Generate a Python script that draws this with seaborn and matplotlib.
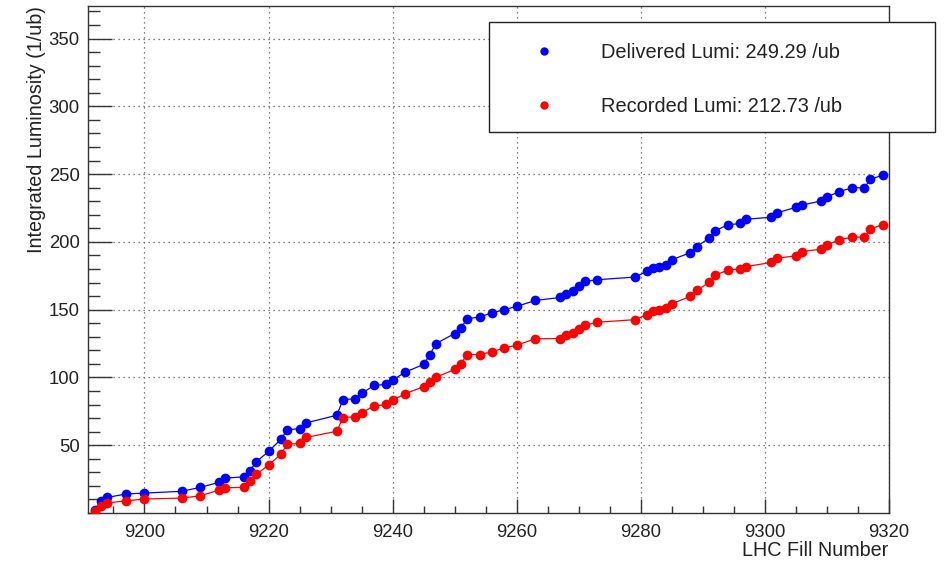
import matplotlib
matplotlib.use("Agg")
import matplotlib.pyplot as plt
from matplotlib.lines import Line2D
from matplotlib.patches import Rectangle
from matplotlib.ticker import MultipleLocator, FixedLocator
import seaborn as sns
import pandas as pd

fills = [9192, 9193, 9194, 9197, 9200, 9206, 9209, 9212, 9213, 9216,
         9217, 9218, 9220, 9222, 9223, 9225, 9226, 9231, 9232, 9234,
         9235, 9237, 9239, 9240, 9242, 9245, 9246, 9247, 9250, 9251,
         9252, 9254, 9256, 9258, 9260, 9263, 9267, 9268, 9269, 9270,
         9271, 9273, 9279, 9281, 9282, 9283, 9284, 9285, 9288, 9289,
         9291, 9292, 9294, 9296, 9297, 9301, 9302, 9305, 9306, 9309,
         9310, 9312, 9314, 9316, 9317, 9319]
delivered = [2.0, 9.0, 11.5, 14.0, 14.7, 16.0, 18.9, 22.6, 25.7, 26.7,
             31.1, 37.7, 45.4, 54.4, 61.3, 62.3, 66.4, 72.1, 83.6, 84.3,
             88.2, 94.1, 94.9, 98.0, 103.9, 109.6, 116.9, 125.0, 132.4, 136.5,
             143.2, 144.6, 147.6, 150.0, 152.4, 156.8, 159.0, 161.5, 163.5, 167.6,
             170.8, 172.1, 174.0, 178.2, 180.7, 181.8, 183.1, 186.8, 192.1, 196.5,
             202.7, 208.3, 212.5, 213.6, 216.7, 218.2, 221.5, 225.5, 227.2, 230.1,
             233.3, 237.0, 239.9, 239.9, 246.1, 249.29]
recorded = [1.7, 4.9, 7.4, 9.0, 10.3, 11.0, 12.7, 16.9, 18.6, 18.9,
            23.5, 28.5, 35.3, 43.4, 50.7, 51.3, 55.7, 60.3, 70.4, 71.1,
            74.0, 78.9, 80.1, 83.1, 88.0, 93.2, 96.5, 100.2, 105.9, 110.1,
            116.9, 116.9, 118.9, 121.8, 123.8, 128.5, 128.7, 131.1, 132.9, 135.8,
            138.5, 140.7, 142.6, 146.3, 148.7, 150.0, 151.2, 154.4, 159.8, 164.2,
            170.1, 175.7, 179.0, 180.1, 181.8, 184.8, 188.0, 189.7, 192.9, 194.6,
            197.8, 201.5, 203.5, 203.5, 209.6, 212.73]
legend_labels = ["Delivered Lumi: 249.29 /ub", "Recorded Lumi: 212.73 /ub"]
x_ticks = [9200, 9220, 9240, 9260, 9280, 9300, 9320]
y_ticks = [50, 100, 150, 200, 250, 300, 350]

sns.set_style("ticks")
plt.rcParams["font.family"] = ["Liberation Sans", "DejaVu Sans"]

df = pd.DataFrame({"fill": fills, "delivered": delivered, "recorded": recorded})

fig = plt.figure(figsize=(9.5, 5.63), dpi=100)
ax = fig.add_axes([88 / 950, 50 / 563, 801 / 950, 507 / 563])

sns.lineplot(data=df, x="fill", y="delivered", ax=ax, color="#0000ff",
             marker="o", markersize=7, markeredgewidth=0, linewidth=0.9,
             sort=False, zorder=3)
sns.lineplot(data=df, x="fill", y="recorded", ax=ax, color="#ff0000",
             marker="o", markersize=7, markeredgewidth=0, linewidth=0.9,
             sort=False, zorder=4)

ax.set_xlim(9190.9, 9320)
ax.set_ylim(0, 374)
ax.xaxis.set_major_locator(FixedLocator(x_ticks))
ax.xaxis.set_minor_locator(MultipleLocator(5))
ax.yaxis.set_major_locator(FixedLocator(y_ticks))
ax.yaxis.set_minor_locator(MultipleLocator(10))

ax.tick_params(axis="both", which="both", direction="in", colors="#333333",
               labelcolor="#222222", width=1.0)
ax.tick_params(axis="y", which="major", length=17.5, pad=6, labelsize=13.3)
ax.tick_params(axis="y", which="minor", length=8.5)
ax.tick_params(axis="x", which="major", length=10, pad=8, labelsize=13.3)
ax.tick_params(axis="x", which="minor", length=5)

ax.grid(True, which="major", color="#555555", linestyle=(0, (1, 3)), linewidth=0.9)
for s in ax.spines.values():
    s.set_color("#333333")
    s.set_linewidth(1.0)

ax.set_xlabel("")
ax.set_ylabel("")
fig.text(888 / 950, 1 - 550 / 563, "LHC Fill Number", ha="right", va="center",
         fontsize=14.2, color="#222222")
fig.text(37 / 950, 1 - 6 / 563, "Integrated Luminosity (1/ub)", ha="center", va="top",
         rotation=90, fontsize=14.2, color="#222222")

rect = Rectangle((489 / 950, 1 - 132 / 563), 446 / 950, 110 / 563,
                 transform=fig.transFigure, facecolor="white", edgecolor="#222222",
                 linewidth=1.0, zorder=4)
fig.add_artist(rect)
handles = [Line2D([], [], marker="o", color="#0000ff", linestyle="none", markersize=5),
           Line2D([], [], marker="o", color="#ff0000", linestyle="none", markersize=5)]
leg = fig.legend(handles, legend_labels, loc="center left",
                 bbox_to_anchor=(534 / 950, 1 - 79.5 / 563),
                 frameon=False, fontsize=14.4, handlelength=1.0, handletextpad=2.35,
                 borderpad=0, borderaxespad=0, labelspacing=1.72)
leg.set_zorder(5)
for t in leg.get_texts():
    t.set_color("#222222")

fig.savefig("out.png", dpi=100, facecolor="white")
